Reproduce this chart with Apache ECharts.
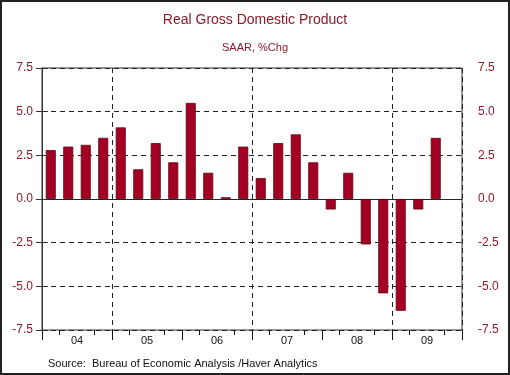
<!DOCTYPE html>
<html><head><meta charset="utf-8">
<script src="https://cdn.jsdelivr.net/npm/echarts@6/dist/echarts.min.js"></script>
<style>html,body{margin:0;padding:0;background:#fff}#c{width:510px;height:375px}</style>
</head><body><div id="c"></div>
<script>
var categories = ['2004Q1','2004Q2','2004Q3','2004Q4','2005Q1','2005Q2','2005Q3','2005Q4','2006Q1','2006Q2','2006Q3','2006Q4','2007Q1','2007Q2','2007Q3','2007Q4','2008Q1','2008Q2','2008Q3','2008Q4','2009Q1','2009Q2','2009Q3','2009Q4'];
var gdpValues = [2.8, 3.0, 3.1, 3.5, 4.1, 1.7, 3.2, 2.1, 5.5, 1.5, 0.1, 3.0, 1.2, 3.2, 3.7, 2.1, -0.6, 1.5, -2.6, -5.4, -6.4, -0.6, 3.5, null];
var yearLabels = ['04','05','06','07','08','09'];
var yTicks = [-7.5, -5.0, -2.5, 0.0, 2.5, 5.0, 7.5];

var maroon = '#8b1a2a';
var font = '"Liberation Sans", Arial, sans-serif';
var chart = echarts.init(document.getElementById('c'));
var n = categories.length;
var gridL = 42, gridR = 48;
var qw = (510 - gridL - gridR) / n;
var blank = function(){ return ''; };
var yAxisBase = {
  type: 'value', min: yTicks[0], max: yTicks[yTicks.length-1], interval: 2.5,
  axisLine: {show: true, lineStyle: {color: '#333', width: 1}},
  axisTick: {show: true, length: 6, lineStyle: {color: '#333'}},
  axisLabel: {color: maroon, fontSize: 12, fontFamily: font, formatter: function(v){return v.toFixed(1);}}
};
chart.setOption({
  animation: false,
  graphic: [{type: 'rect', shape: {x: 1, y: 1, width: 508, height: 373}, style: {fill: 'none', stroke: '#222', lineWidth: 2}}],
  title: [
    {text: 'Real Gross Domestic Product', left: 'center', top: 8, textStyle: {color: maroon, fontSize: 14, fontWeight: 'normal', fontFamily: font}},
    {text: 'SAAR, %Chg', left: 'center', top: 37, textStyle: {color: maroon, fontSize: 11, fontWeight: 'normal', fontFamily: font}},
    {text: 'Source:  Bureau of Economic Analysis /Haver Analytics', left: 43, top: 353, textStyle: {color: '#111', fontSize: 11, fontWeight: 'normal', fontFamily: font}}
  ],
  grid: [
    {left: gridL, right: gridR, top: 68, bottom: 45, show: true, borderColor: '#333', borderWidth: 1, backgroundColor: 'transparent'},
    {left: gridL + qw, right: gridR + qw, top: 68, bottom: 45, show: false}
  ],
  xAxis: [
    {type: 'category', data: categories, boundaryGap: true, gridIndex: 0,
     axisLine: {show: true, onZero: true, lineStyle: {color: '#222', width: 1}},
     axisTick: {show: false}, axisLabel: {show: false},
     splitLine: {show: true, interval: function(i){return i % 8 === 4;}, lineStyle: {color: '#222', type: [5,4], width: 1}}},
    {type: 'value', min: 0, max: n, interval: 4, position: 'bottom', gridIndex: 0,
     axisLine: {show: false, onZero: false}, axisTick: {show: true, length: 10, lineStyle: {color: '#111', width: 1}},
     axisLabel: {show: true, margin: 5, fontSize: 11, formatter: blank},
     splitLine: {show: false}},
    {type: 'value', min: 0, max: n, interval: 2, position: 'bottom', gridIndex: 0,
     axisLine: {show: false, onZero: false}, axisTick: {show: false},
     axisLabel: {show: true, margin: 5, color: '#111', fontSize: 11, fontFamily: font, showMinLabel: true, showMaxLabel: true,
       formatter: function(v){ return (v % 4 === 2) ? yearLabels[(v - 2) / 4] : ''; }},
     splitLine: {show: false}},
    {type: 'value', min: 1, max: n - 1, interval: 2, position: 'bottom', gridIndex: 1,
     axisLine: {show: false, onZero: false},
     axisTick: {show: true, length: 5, lineStyle: {color: '#111', width: 1}},
     axisLabel: {show: true, margin: 5, fontSize: 11, formatter: blank}, splitLine: {show: false}}
  ],
  yAxis: [
    Object.assign({}, yAxisBase, {position: 'left', gridIndex: 0, axisLabel: Object.assign({}, yAxisBase.axisLabel, {margin: 9}),
      splitLine: {show: true, lineStyle: {color: '#222', type: [5,4], width: 1}}}),
    Object.assign({}, yAxisBase, {position: 'right', gridIndex: 0, axisLabel: Object.assign({}, yAxisBase.axisLabel, {margin: 16}),
      splitLine: {show: false}}),
    {type: 'value', gridIndex: 1, min: yTicks[0], max: yTicks[yTicks.length-1],
     axisLine: {show: false}, axisTick: {show: false}, axisLabel: {show: false}, splitLine: {show: false}}
  ],
  series: [{
    type: 'bar', data: gdpValues, xAxisIndex: 0, yAxisIndex: 0, barWidth: 10,
    itemStyle: {color: '#a30024', borderColor: '#5a0a14', borderWidth: 0.8}
  }]
});
</script></body></html>
